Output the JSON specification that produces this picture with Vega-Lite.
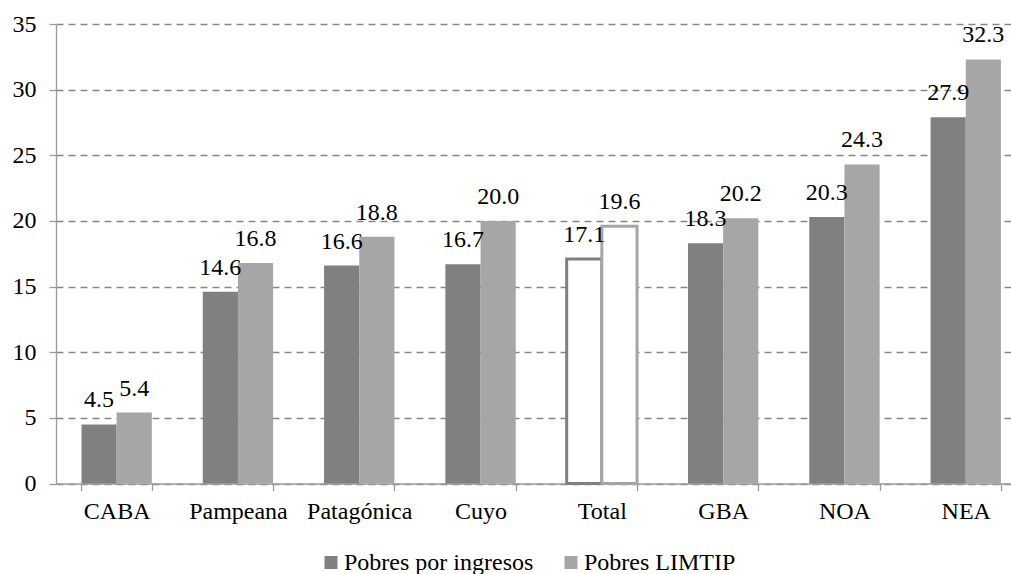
{
  "$schema": "https://vega.github.io/schema/vega-lite/v6.json",
  "width": 955,
  "height": 459.5,
  "autosize": {"type": "none"},
  "padding": {"left": 56, "top": 24, "right": 0, "bottom": 90.5},
  "background": "white",
  "config": {
    "font": "'Liberation Serif', 'Times New Roman', serif",
    "view": {"stroke": null},
    "axis": {"labelFont": "'Liberation Serif', 'Times New Roman', serif", "labelFontSize": 24, "labelColor": "#000000"},
    "legend": {"labelFont": "'Liberation Serif', 'Times New Roman', serif"},
    "text": {"font": "'Liberation Serif', 'Times New Roman', serif"}
  },
  "data": {
    "values": [
      {"region": "CABA", "series": "Pobres por ingresos", "value": 4.5},
      {"region": "CABA", "series": "Pobres LIMTIP", "value": 5.4},
      {"region": "Pampeana", "series": "Pobres por ingresos", "value": 14.6},
      {"region": "Pampeana", "series": "Pobres LIMTIP", "value": 16.8},
      {"region": "Patagónica", "series": "Pobres por ingresos", "value": 16.6},
      {"region": "Patagónica", "series": "Pobres LIMTIP", "value": 18.8},
      {"region": "Cuyo", "series": "Pobres por ingresos", "value": 16.7},
      {"region": "Cuyo", "series": "Pobres LIMTIP", "value": 20.0},
      {"region": "Total", "series": "Pobres por ingresos", "value": 17.1},
      {"region": "Total", "series": "Pobres LIMTIP", "value": 19.6},
      {"region": "GBA", "series": "Pobres por ingresos", "value": 18.3},
      {"region": "GBA", "series": "Pobres LIMTIP", "value": 20.2},
      {"region": "NOA", "series": "Pobres por ingresos", "value": 20.3},
      {"region": "NOA", "series": "Pobres LIMTIP", "value": 24.3},
      {"region": "NEA", "series": "Pobres por ingresos", "value": 27.9},
      {"region": "NEA", "series": "Pobres LIMTIP", "value": 32.3}
    ]
  },
  "encoding": {
    "x": {
      "field": "region",
      "type": "nominal",
      "sort": ["CABA", "Pampeana", "Patagónica", "Cuyo", "Total", "GBA", "NOA", "NEA"],
      "scale": {"range": [0, 970.4], "paddingInner": 0.42, "paddingOuter": 0.21},
      "axis": {
        "title": null,
        "labelAngle": 0,
        "tickBand": "extent",
        "domainColor": "#9a9a9a",
        "domainWidth": 1.3,
        "tickColor": "#9a9a9a",
        "tickWidth": 1.3,
        "tickSize": 7,
        "labelPadding": 9,
        "grid": false
      }
    },
    "xOffset": {
      "field": "series",
      "type": "nominal",
      "sort": ["Pobres por ingresos", "Pobres LIMTIP"],
      "scale": {"domain": ["Pobres por ingresos", "Pobres LIMTIP"], "paddingInner": 0, "paddingOuter": 0}
    },
    "y": {
      "field": "value",
      "type": "quantitative",
      "scale": {"domain": [0, 35], "nice": false},
      "axis": {
        "title": null,
        "values": [0, 5, 10, 15, 20, 25, 30, 35],
        "domainColor": "#9a9a9a",
        "domainWidth": 1.3,
        "tickColor": "#9a9a9a",
        "tickWidth": 1.3,
        "tickSize": 7,
        "labelPadding": 13,
        "grid": true,
        "gridColor": "#868686",
        "gridDash": [7, 5],
        "gridWidth": 1.3
      }
    }
  },
  "layer": [
    {
      "mark": {"type": "bar"},
      "encoding": {
        "fill": {
          "condition": {"test": "datum.region === 'Total'", "value": "#ffffff"},
          "field": "series",
          "type": "nominal",
          "scale": {"domain": ["Pobres por ingresos", "Pobres LIMTIP"], "range": ["#808080", "#a6a6a6"]},
          "legend": {
            "title": null,
            "orient": "none",
            "direction": "horizontal",
            "legendX": 263,
            "legendY": 526.5,
            "symbolType": "square",
            "symbolSize": 169,
            "symbolStrokeWidth": 0,
            "labelFontSize": 24,
            "labelColor": "#000000",
            "labelOffset": 1,
            "labelLimit": 400,
            "columnPadding": 25
          }
        },
        "stroke": {
          "field": "series",
          "type": "nominal",
          "scale": {"domain": ["Pobres por ingresos", "Pobres LIMTIP"], "range": ["#808080", "#a6a6a6"]},
          "legend": null
        },
        "strokeWidth": {
          "condition": {"test": "datum.region === 'Total'", "value": 3},
          "value": 0
        }
      }
    },
    {
      "mark": {"type": "text", "baseline": "alphabetic", "dy": -17, "fontSize": 24, "color": "#000000"},
      "encoding": {
        "text": {"field": "value", "type": "quantitative", "format": ".1f"}
      }
    }
  ]
}
